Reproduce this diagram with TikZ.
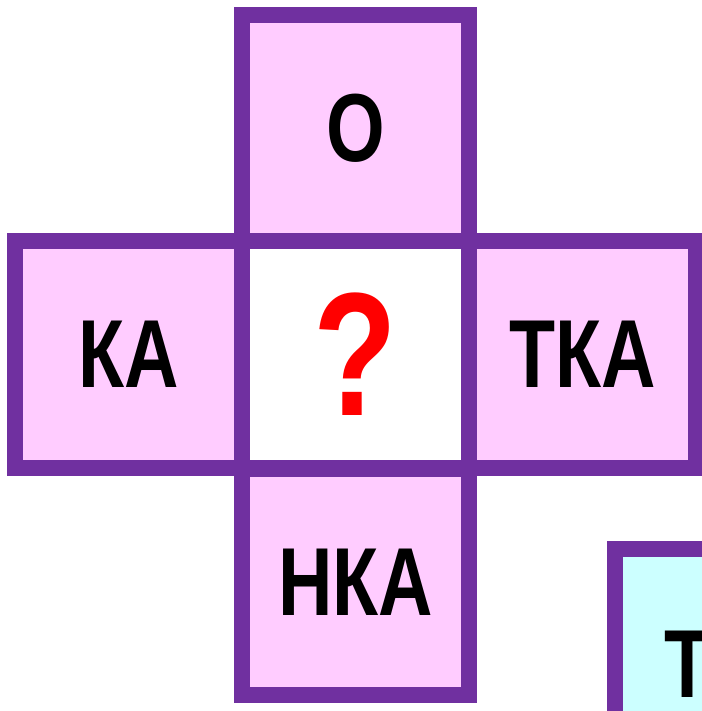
\documentclass[tikz,border=0pt]{standalone}
\usepackage{fontspec}
\setmainfont{Liberation Sans}[FakeStretch=0.78]
\definecolor{crosspurple}{HTML}{7030A0}
\definecolor{crosspink}{HTML}{FFCCFF}
\definecolor{cardcyan}{HTML}{CCFFFF}

\begin{document}
\begin{tikzpicture}[x=0.02cm, y=-0.02cm,
    cell/.style={draw=crosspurple, line width=0.32cm, fill=crosspink,
      minimum size=4.54cm, inner sep=0pt, outer sep=0pt,
      font=\bfseries\fontsize{55}{60}\selectfont}]
    \useasboundingbox (0,0) rectangle (702,711);
    \clip (0,0) rectangle (702,711);
    % Cross
    \node[cell] (top) at (355.5,128) {О};
    \node[cell] (left) at (128.5,354.5) {КА};
    \node[cell] (right) at (582.5,354.5) {ТКА};
    \node[cell] (bottom) at (355.5,582) {НКА};
    % Middle square
    \node[cell, fill=white, text=red,
      font=\bfseries\fontsize{100}{110}\selectfont] (mid) at (355.5,354.5) {?};
    % Card in the corner
    \node[cell, fill=cardcyan] (card) at (728.5,662.5) {};
    \node[anchor=base west, inner sep=0pt,
      font=\bfseries\fontsize{55}{60}\selectfont] (cardtext) at (664,697) {Т};
\end{tikzpicture}
\end{document}
